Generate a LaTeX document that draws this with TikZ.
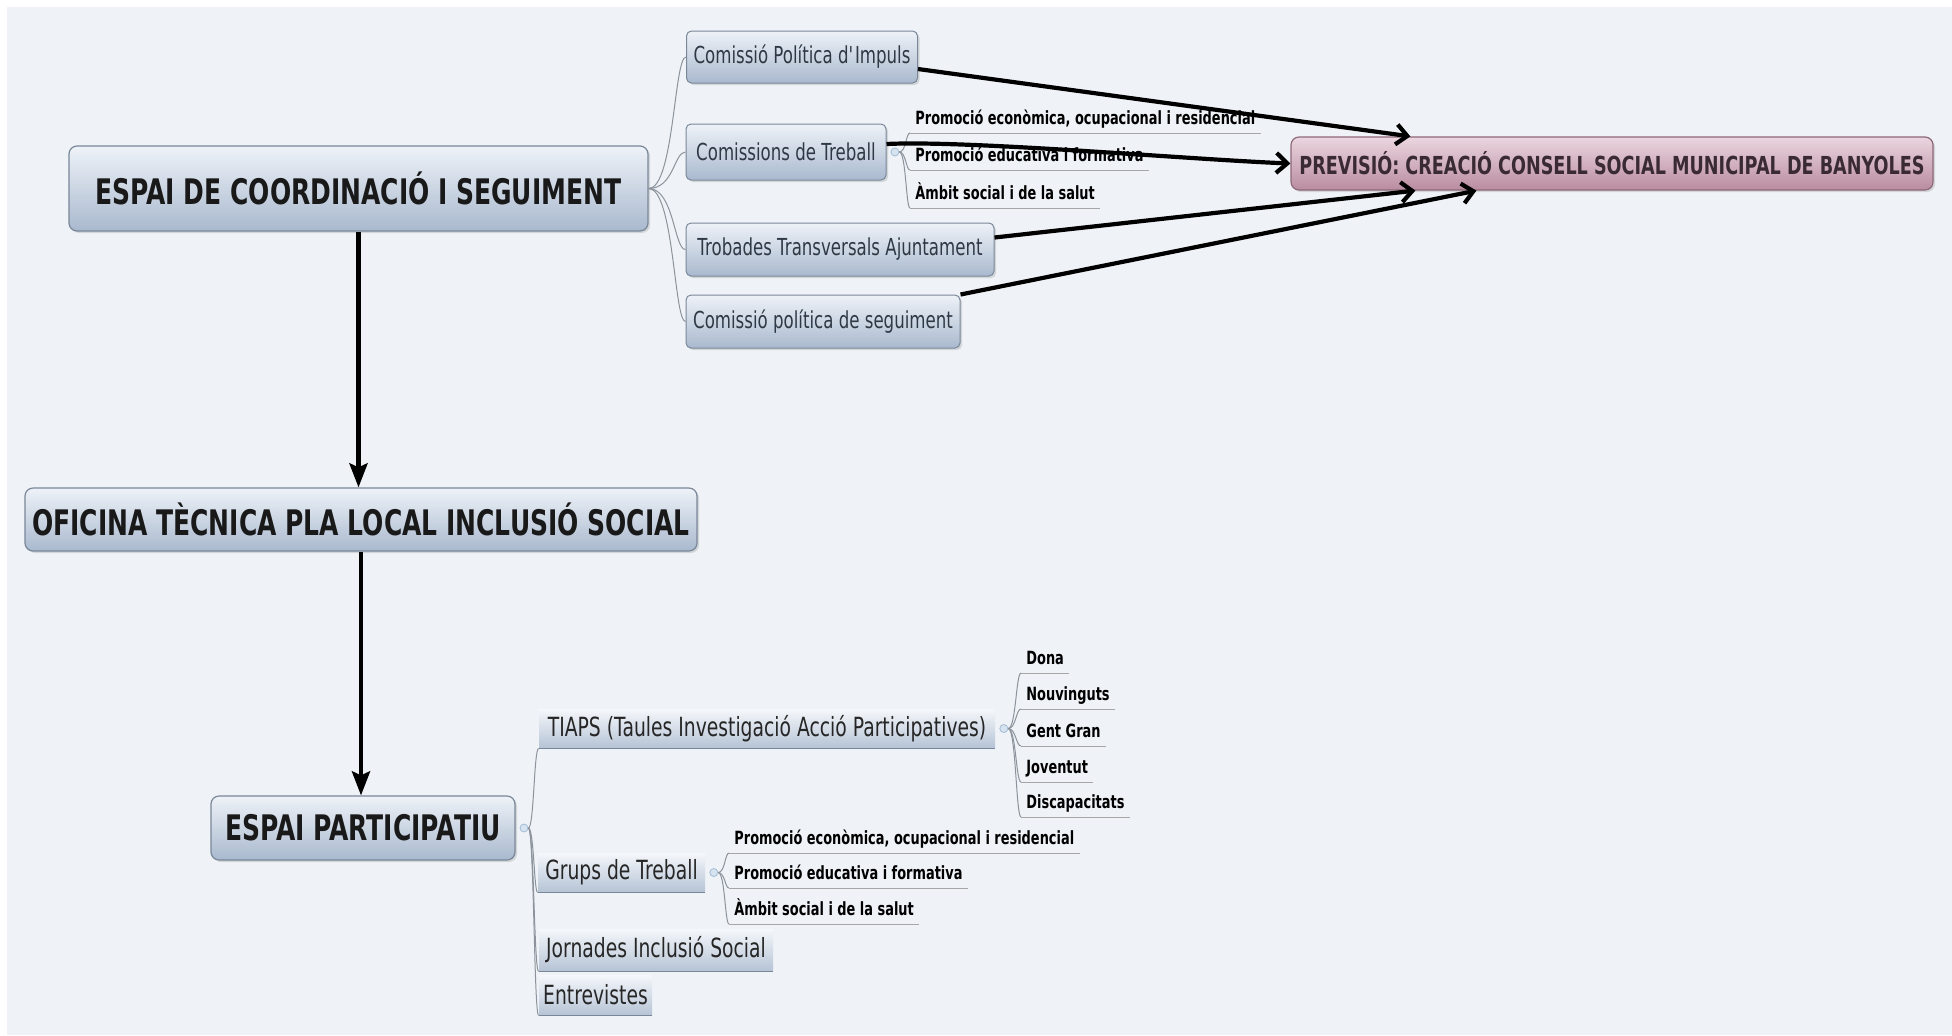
\documentclass[tikz,border=0pt]{standalone}
\usepackage{fontspec}
\setmainfont{DejaVu Sans}[FakeStretch=0.71]
\usetikzlibrary{positioning,arrows.meta,shadows}

\definecolor{fonsblau}{HTML}{EFF3F7}
\definecolor{capsatop}{HTML}{EEF2F8}
\definecolor{capsabot}{HTML}{A9B9CE}
\definecolor{vora}{HTML}{7A8799}
\definecolor{rosatop}{HTML}{EBD6DF}
\definecolor{rosabot}{HTML}{B98CA0}
\definecolor{rosavora}{HTML}{8E6878}
\definecolor{rosatext}{HTML}{3A2A33}
\definecolor{branca}{HTML}{8C939C}
\definecolor{textfosc}{HTML}{2F3946}
\definecolor{cercle}{HTML}{D6E3F0}
\definecolor{cerclevora}{HTML}{A5BCD4}

\tikzset{
  ombra/.style={drop shadow={shadow xshift=1pt, shadow yshift=-1pt, opacity=0.25}},
  principal/.style={rectangle, rounded corners=4pt, draw=vora, line width=0.6pt,
    top color=capsatop, bottom color=capsabot, ombra, inner sep=0pt,
    font=\fontsize{17.6}{20}\selectfont\bfseries, text=black!90},
  previsio/.style={rectangle, rounded corners=4pt, draw=rosavora, line width=0.6pt,
    top color=rosatop, bottom color=rosabot, ombra, inner sep=0pt,
    font=\fontsize{12.4}{14}\selectfont\bfseries, text=rosatext},
  comissio/.style={rectangle, rounded corners=2.5pt, draw=vora, line width=0.5pt,
    top color=capsatop, bottom color=capsabot, ombra, inner sep=0pt,
    font=\fontsize{11.7}{14}\selectfont, text=textfosc},
  tema/.style={rectangle, top color=capsatop!60!white, bottom color=capsabot!85!white,
    inner sep=0pt, font=\fontsize{13.2}{15}\selectfont, text=black!85},
  fulla/.style={anchor=south west, inner xsep=2.5pt, inner ysep=2pt,
    text height=7pt, text depth=2pt, font=\fontsize{9.1}{11}\selectfont\bfseries},
  plegar/.style={circle, draw=cerclevora, fill=cercle, line width=0.4pt,
    minimum size=4pt, inner sep=0pt},
  branca/.style={draw=branca, line width=0.5pt},
  subratlla/.style={draw=gray!70, line width=0.5pt},
  fletxa/.style={line width=2.1pt, -{Straight Barb[length=5.5pt,width=10pt]}},
  baixa/.style={line width=2.3pt, -{Stealth[length=12pt,width=9pt,inset=2pt]}}
}

\begin{document}
\begin{tikzpicture}[x=0.5pt,y=-0.5pt]
  \useasboundingbox (0,0) rectangle (1952,1035);
  \fill[fonsblau] (7,7) rectangle (1952,1035);

  % main column
  \node[principal, minimum width=289.5pt, minimum height=42.5pt] (coord) at (358.5,188.5) {ESPAI DE COORDINACIÓ I SEGUIMENT};
  \node[principal, minimum width=336pt, minimum height=31.5pt] (oficina) at (361,519.5) {OFICINA TÈCNICA PLA LOCAL INCLUSIÓ SOCIAL};
  \node[principal, minimum width=152pt, minimum height=32pt] (partic) at (363,828) {ESPAI PARTICIPATIU};
  \node[previsio, minimum width=321pt, minimum height=26.5pt] (previsio) at (1612,163.5) {PREVISIÓ: CREACIÓ CONSELL SOCIAL MUNICIPAL DE BANYOLES};

  % commissions
  \node[comissio, minimum width=115.5pt, minimum height=26pt] (impuls) at (802,57) {Comissió Política d\textquotesingle Impuls};
  \node[comissio, minimum width=100pt, minimum height=28pt] (comtreb) at (786,152) {Comissions de Treball};
  \node[comissio, minimum width=154pt, minimum height=26.5pt] (trobades) at (840,249.5) {Trobades Transversals Ajuntament};
  \node[comissio, minimum width=137pt, minimum height=26.5pt] (seguiment) at (823,321.5) {Comissió política de seguiment};

  % participation
  \node[tema, minimum width=228pt, minimum height=19.5pt] (tiaps) at (767,728.5) {TIAPS (Taules Investigació Acció Participatives)};
  \node[tema, minimum width=83.5pt, minimum height=19.5pt] (grups) at (621.5,872.5) {Grups de Treball};
  \node[tema, minimum width=117pt, minimum height=21pt] (jornades) at (656,950) {Jornades Inclusió Social};
  \node[tema, minimum width=56.5pt, minimum height=20pt] (entrevistes) at (595.5,995) {Entrevistes};
  \foreach \n in {tiaps,grups,jornades,entrevistes}
    \draw[vora, line width=0.6pt] (\n.south west) -- (\n.south east);

  % fold markers
  \node[plegar, right=2pt of comtreb] (pctreb) {};
  \node[plegar, right=2pt of partic] (ppartic) {};
  \node[plegar, right=2pt of tiaps] (ptiaps) {};
  \node[plegar, right=2pt of grups] (pgrups) {};

  % leaves
  \node[fulla] (ctecon) at (910,133) {Promoció econòmica, ocupacional i residencial};
  \node[fulla] (ctedu) at (910,170) {Promoció educativa i formativa};
  \node[fulla] (ctsoc) at (910,208) {Àmbit social i de la salut};
  \foreach \n/\y/\t in {dona/673/Dona, nouv/709/Nouvinguts, gent/746/Gent Gran, jove/782/Joventut, disc/817/Discapacitats}
    \node[fulla] (\n) at (1021,\y) {\t};
  \node[fulla] (gtecon) at (729,853) {Promoció econòmica, ocupacional i residencial};
  \node[fulla] (gtedu) at (729,888) {Promoció educativa i formativa};
  \node[fulla] (gtsoc) at (729,924) {Àmbit social i de la salut};
  \foreach \n in {ctecon,ctedu,ctsoc,dona,nouv,gent,jove,disc,gtecon,gtedu,gtsoc}
    \draw[subratlla] (\n.south west) -- (\n.south east);

  % branches
  \coordinate (tronc1) at (674,0);
  \coordinate (tronc2) at (534,0);
  \coordinate (tronc3) at (906,0);
  \coordinate (tronc4) at (1016,0);
  \coordinate (tronc5) at (725,0);
  \foreach \n in {impuls,comtreb,trobades,seguiment}
    \draw[branca] (coord.east) .. controls (coord.east -| tronc1) and (\n.west -| tronc1) .. (\n.west);
  \foreach \n in {tiaps,grups,jornades,entrevistes}
    \draw[branca] (ppartic.east) .. controls (ppartic.east -| tronc2) and (\n.south west -| tronc2) .. (\n.south west);
  \foreach \n in {ctecon,ctedu,ctsoc}
    \draw[branca] (pctreb.east) .. controls (pctreb.east -| tronc3) and (\n.south west -| tronc3) .. (\n.south west);
  \foreach \n in {dona,nouv,gent,jove,disc}
    \draw[branca] (ptiaps.east) .. controls (ptiaps.east -| tronc4) and (\n.south west -| tronc4) .. (\n.south west);
  \foreach \n in {gtecon,gtedu,gtsoc}
    \draw[branca] (pgrups.east) .. controls (pgrups.east -| tronc5) and (\n.south west -| tronc5) .. (\n.south west);

  % arrows
  \draw[baixa] (coord.south) -- (coord.south |- oficina.north);
  \draw[baixa] (oficina.south) -- (oficina.south |- partic.north);
  \draw[fletxa] ([yshift=-6pt]impuls.east) -- ([xshift=60pt]previsio.north west);
  \draw[fletxa] ([yshift=4pt]comtreb.east) .. controls +(40pt,2pt) and +(-50pt,2pt) .. (previsio.west);
  \draw[fletxa] ([yshift=6pt]trobades.east) -- ([xshift=62.5pt]previsio.south west);
  \draw[fletxa] (seguiment.north east) -- ([xshift=93pt]previsio.south west);
\end{tikzpicture}
\end{document}
